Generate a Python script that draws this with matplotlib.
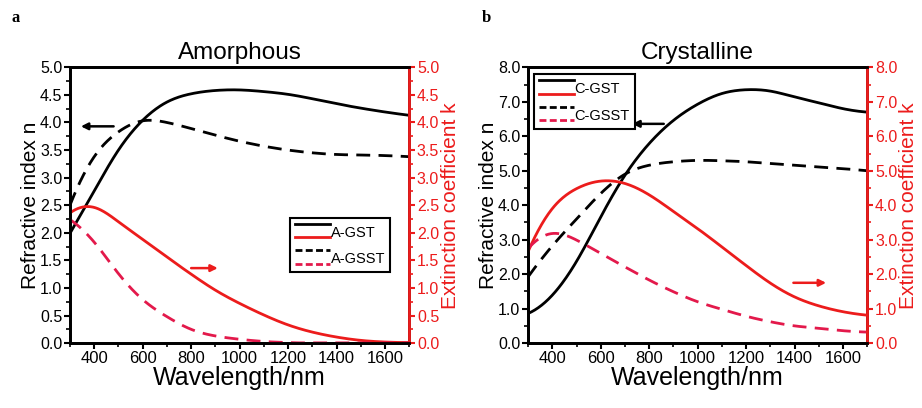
import numpy as np
import matplotlib
matplotlib.use("Agg")
import matplotlib.pyplot as plt
from matplotlib.legend_handler import HandlerBase
from matplotlib.lines import Line2D
from matplotlib.ticker import MultipleLocator, FormatStrFormatter

plt.rcParams['font.family'] = ['Liberation Sans', 'DejaVu Sans']

wl = [300, 400, 500, 600, 700, 800, 900, 1000, 1100, 1200, 1300, 1400, 1500, 1600, 1700]

# Panel a (amorphous)
a_gst_n = [1.99, 2.76, 3.5, 4.04, 4.37, 4.52, 4.58, 4.59, 4.56, 4.51, 4.43, 4.34, 4.26, 4.19, 4.13]
a_gsst_n = [2.5, 3.38, 3.83, 4.03, 4.0, 3.89, 3.77, 3.66, 3.57, 3.5, 3.45, 3.42, 3.41, 3.4, 3.38]
a_gst_k = [2.36, 2.46, 2.2, 1.88, 1.56, 1.25, 0.96, 0.72, 0.51, 0.33, 0.2, 0.11, 0.05, 0.02, 0.01]
a_gsst_k = [2.24, 1.83, 1.26, 0.79, 0.48, 0.25, 0.13, 0.07, 0.03, 0.01, 0.0, 0.0, 0.0, 0.0, 0.0]

# Panel b (crystalline)
c_gst_n = [0.86, 1.39, 2.37, 3.66, 4.87, 5.79, 6.46, 6.93, 7.24, 7.35, 7.31, 7.14, 6.97, 6.8, 6.7]
c_gsst_n = [1.92, 2.82, 3.6, 4.34, 4.9, 5.16, 5.26, 5.3, 5.29, 5.26, 5.21, 5.16, 5.11, 5.06, 5.0]
c_gst_k = [2.65, 3.9, 4.48, 4.7, 4.63, 4.3, 3.82, 3.32, 2.79, 2.25, 1.74, 1.34, 1.08, 0.91, 0.81]
c_gsst_k = [2.74, 3.18, 2.99, 2.6, 2.21, 1.83, 1.49, 1.2, 0.98, 0.78, 0.62, 0.5, 0.43, 0.36, 0.32]

RED = '#ec1c1c'
PINK = '#e3194b'


def spline(x, y, num=400):
    """Cubic spline (parabolic run-out ends) through the read points."""
    x = np.asarray(x, float); y = np.asarray(y, float)
    n = len(x)
    h = np.diff(x)
    A = np.zeros((n, n)); r = np.zeros(n)
    A[0, 0] = 1; A[0, 1] = -1
    A[-1, -1] = 1; A[-1, -2] = -1
    for i in range(1, n - 1):
        A[i, i - 1] = h[i - 1]
        A[i, i] = 2 * (h[i - 1] + h[i])
        A[i, i + 1] = h[i]
        r[i] = 6 * ((y[i + 1] - y[i]) / h[i] - (y[i] - y[i - 1]) / h[i - 1])
    M = np.linalg.solve(A, r)
    xs = np.linspace(x[0], x[-1], num)
    idx = np.clip(np.searchsorted(x, xs) - 1, 0, n - 2)
    x0 = x[idx]; x1 = x[idx + 1]; hh = x1 - x0
    a = (x1 - xs) / hh; b = (xs - x0) / hh
    ys = (a * y[idx] + b * y[idx + 1]
          + ((a**3 - a) * M[idx] + (b**3 - b) * M[idx + 1]) * hh**2 / 6)
    return xs, ys


class HandlerStack(HandlerBase):
    def create_artists(self, legend, orig_handle, xdescent, ydescent,
                       width, height, fontsize, trans):
        arts = []
        ys = [-ydescent + height * 0.95, -ydescent + height * 0.2]
        for h, yy in zip(orig_handle, ys):
            l = Line2D([-xdescent, -xdescent + width], [yy, yy],
                       color=h.get_color(), linestyle=h.get_linestyle(),
                       linewidth=h.get_linewidth(), transform=trans)
            if h.get_linestyle() == '--':
                l.set_dashes((2.5, 1.2))
            arts.append(l)
        return arts


fig = plt.figure(figsize=(9.22, 4.08), dpi=100)

panels = [
    dict(pos=[0.0759, 0.159, 0.368, 0.676], title='Amorphous', letter='a',
         ymax=5.0, ystep=0.5, yminor=0.25,
         n1=a_gst_n, n2=a_gsst_n, k1=a_gst_k, k2=a_gsst_k,
         labels=['A-GST', 'A-GSST'], legpos=(0.64, 0.465),
         barrow=((480, 3.93), (345, 3.93)), rarrow=((800, 1.36), (910, 1.36)),
         letterx=0.012),
    dict(pos=[0.5727, 0.159, 0.368, 0.676], title='Crystalline', letter='b',
         ymax=8.0, ystep=1.0, yminor=0.5,
         n1=c_gst_n, n2=c_gsst_n, k1=c_gst_k, k2=c_gsst_k,
         labels=['C-GST', 'C-GSST'], legpos=(0.008, 0.985),
         barrow=((860, 6.36), (730, 6.36)), rarrow=((1395, 1.75), (1530, 1.75)),
         letterx=0.522),
]

for p in panels:
    ax = fig.add_axes(p['pos'])
    ax2 = ax.twinx()
    lw = 2.0
    x1, y1 = spline(wl, p['n1'])
    x2, y2 = spline(wl, p['n2'])
    x3, y3 = spline(wl, p['k1'])
    x4, y4 = spline(wl, p['k2'])
    l1, = ax.plot(x1, y1, color='black', lw=lw, ls='-')
    l2, = ax.plot(x2, y2, color='black', lw=lw, ls='--', dashes=(5, 3))
    l3, = ax2.plot(x3, np.clip(y3, 0.005, None), color=RED, lw=lw, ls='-')
    l4, = ax2.plot(x4, np.clip(y4, 0.005, None), color=PINK, lw=lw, ls='--', dashes=(5, 3))

    for a in (ax, ax2):
        a.set_xlim(300, 1700)
        a.set_ylim(0, p['ymax'])
        a.yaxis.set_major_locator(MultipleLocator(p['ystep']))
        a.yaxis.set_minor_locator(MultipleLocator(p['yminor']))
        a.yaxis.set_major_formatter(FormatStrFormatter('%.1f'))
    ax.xaxis.set_minor_locator(MultipleLocator(100))
    ax.set_xticks([400, 600, 800, 1000, 1200, 1400, 1600])

    for s in ax.spines.values():
        s.set_linewidth(2.0)
    for s in ax2.spines.values():
        s.set_linewidth(2.0)
    ax2.spines['right'].set_color(RED)
    ax.tick_params(axis='x', which='major', direction='out', length=4, width=1.5,
                   labelsize=12, pad=2)
    ax.tick_params(axis='y', which='major', direction='out', length=4, width=1.5,
                   labelsize=11.5, pad=1.5)
    ax.tick_params(axis='both', which='minor', direction='out', length=3, width=1.2)
    ax2.tick_params(axis='y', which='major', direction='out', length=4, width=1.5,
                    labelsize=11.5, colors=RED, pad=1.5)
    ax2.tick_params(axis='y', which='minor', direction='out', length=3, width=1.2,
                    colors=RED)

    ax.set_xlabel('Wavelength/nm', fontsize=18, labelpad=0)
    ax.set_ylabel('Refractive index n', fontsize=15, labelpad=0)
    ax2.set_ylabel('Extinction coefficient k', fontsize=15, color=RED, labelpad=1)
    ax.set_title(p['title'], fontsize=17.5, pad=6)

    (bx0, by0), (bx1, by1) = p['barrow']
    ax.annotate('', xy=(bx1, by1), xytext=(bx0, by0),
                arrowprops=dict(arrowstyle='-|>', color='black', lw=1.8,
                                mutation_scale=10, shrinkA=0, shrinkB=0))
    (rx0, ry0), (rx1, ry1) = p['rarrow']
    ax2.annotate('', xy=(rx1, ry1), xytext=(rx0, ry0),
                 arrowprops=dict(arrowstyle='-|>', color=RED, lw=1.8,
                                 mutation_scale=10, shrinkA=0, shrinkB=0))

    leg = ax2.legend([(l1, l3), (l2, l4)], p['labels'],
                     handler_map={tuple: HandlerStack()},
                     loc='upper left', bbox_to_anchor=p['legpos'],
                     fontsize=10.5, handlelength=2.4, handleheight=1.5,
                     handletextpad=0.05, borderpad=0.35, labelspacing=0.6,
                     borderaxespad=0.2,
                     fancybox=False, framealpha=1, edgecolor='black')
    leg.get_frame().set_linewidth(1.5)

    fig.text(p['letterx'], 0.955, p['letter'], fontsize=12, fontweight='bold',
             family=['Liberation Serif', 'DejaVu Serif'], va='center', ha='left')

fig.savefig('out.png', dpi=100)
